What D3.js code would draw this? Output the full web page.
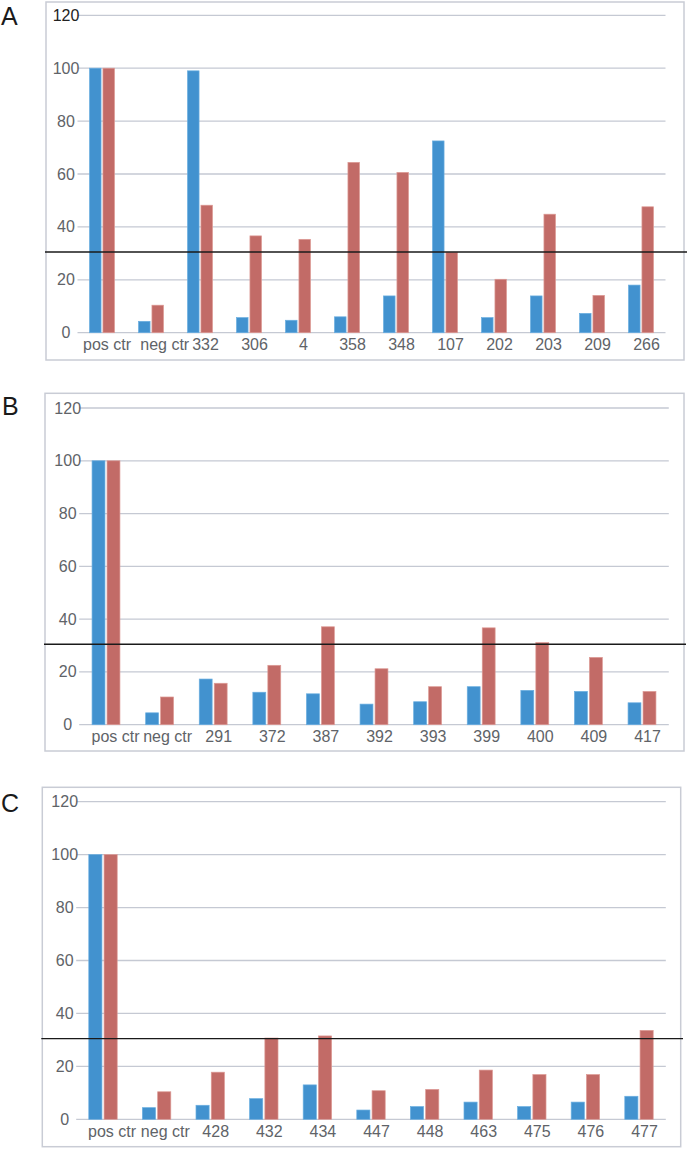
<!DOCTYPE html>
<html>
<head>
<meta charset="utf-8">
<script src="https://cdn.jsdelivr.net/npm/d3@7"></script>
<style>
  html, body { margin: 0; padding: 0; background: #fff; }
  svg { display: block; font-family: "Liberation Sans", Arial, sans-serif; }
</style>
</head>
<body>
<svg id="chart" width="688" height="1149"></svg>
<script>
// ---------- data ----------
const yTicks = [0, 20, 40, 60, 80, 100, 120];
const threshold = 30.5;

const catsA = ["pos ctr", "neg ctr", "332", "306", "4", "358", "348", "107", "202", "203", "209", "266"];
const blueA = [100, 4.3, 99, 5.7, 4.7, 6.0, 13.9, 72.5, 5.7, 13.9, 7.3, 18.0];
const redA  = [100, 10.4, 48.2, 36.6, 35.3, 64.4, 60.6, 30.4, 20.2, 44.8, 14.1, 47.6];

const catsB = ["pos ctr", "neg ctr", "291", "372", "387", "392", "393", "399", "400", "409", "417"];
const blueB = [100, 4.5, 17.3, 12.3, 11.7, 7.8, 8.7, 14.4, 13.0, 12.6, 8.3];
const redB  = [100, 10.5, 15.7, 22.5, 37.1, 21.2, 14.4, 36.7, 31.1, 25.5, 12.6];

const catsC = ["pos ctr", "neg ctr", "428", "432", "434", "447", "448", "463", "475", "476", "477"];
const blueC = [100, 4.4, 5.3, 7.8, 13.0, 3.5, 4.8, 6.5, 4.8, 6.5, 8.7];
const redC  = [100, 10.4, 17.8, 30.7, 31.5, 10.8, 11.3, 18.6, 16.9, 16.9, 33.6];

// ---------- layout / style ----------
const BLUE = "#4292cf", BLUE_EDGE = "#6aaee0";
const RED = "#c26b67", RED_EDGE = "#dd9a95";
const GRID = "#c5c9d3", BOX = "#c9ccd5", TXT = "#606368";

const panels = [
  { letter: "A", cats: catsA, blue: blueA, red: redA,
    box: [46, 2, 684, 360], xr: [77.5, 665.5], yr: [332.7, 15.3],
    padIn: 0.49, letterXY: [1, 25], ctrShift: [-0.5, 8.2], topDark: true, lineEnd: 687 },
  { letter: "B", cats: catsB, blue: blueB, red: redB,
    box: [45, 393.3, 684, 751], xr: [79.2, 668.8], yr: [724.7, 408],
    padIn: 0.48, letterXY: [2, 415], ctrShift: [4, 2.5], topDark: false, lineEnd: 686 },
  { letter: "C", cats: catsC, blue: blueC, red: redC,
    box: [42.3, 787.3, 680.7, 1146.7], xr: [76.2, 665.8], yr: [1119.3, 801.7],
    padIn: 0.47, letterXY: [1, 812], ctrShift: [3.5, 3.2], topDark: false, lineEnd: 683 }
];

const svg = d3.select("#chart");

panels.forEach(p => {
  const g = svg.append("g");
  const [bx0, by0, bx1, by1] = p.box;

  // panel letter
  g.append("text").attr("x", p.letterXY[0]).attr("y", p.letterXY[1])
    .attr("font-size", 25).attr("fill", "#1a1a1a").text(p.letter);

  // box
  g.append("rect").attr("x", bx0).attr("y", by0)
    .attr("width", bx1 - bx0).attr("height", by1 - by0)
    .attr("fill", "none").attr("stroke", BOX).attr("stroke-width", 1.5);

  const x = d3.scaleBand().domain(p.cats).range(p.xr).paddingInner(p.padIn).paddingOuter(p.padIn / 2);
  const x1 = d3.scaleBand().domain(["blue", "red"]).range([0, x.bandwidth()]).paddingInner(0.14);
  const y = d3.scaleLinear().domain([0, 120]).range(p.yr);

  // gridlines
  g.append("g").selectAll("line").data(yTicks).join("line")
    .attr("x1", p.xr[0]).attr("x2", p.xr[1])
    .attr("y1", d => y(d)).attr("y2", d => y(d))
    .attr("stroke", GRID).attr("stroke-width", 1.3);

  // y tick labels (centred)
  g.append("g").selectAll("text").data(yTicks).join("text")
    .attr("x", p.xr[0] - 11.5).attr("y", d => y(d))
    .attr("text-anchor", "middle").attr("dominant-baseline", "central")
    .attr("font-size", 16)
    .attr("fill", d => (p.topDark && d === 120) ? "#222" : TXT)
    .text(d => d);

  // bars
  const rows = p.cats.map((c, i) => ({ c, blue: p.blue[i], red: p.red[i] }));
  const grp = g.append("g").selectAll("g").data(rows).join("g")
    .attr("transform", d => `translate(${x(d.c)},0)`);
  grp.append("rect")
    .attr("x", x1("blue")).attr("width", x1.bandwidth())
    .attr("y", d => y(d.blue)).attr("height", d => y(0) - y(d.blue))
    .attr("fill", BLUE).attr("stroke", BLUE_EDGE).attr("stroke-width", 0.7);
  grp.append("rect")
    .attr("x", x1("red")).attr("width", x1.bandwidth())
    .attr("y", d => y(d.red)).attr("height", d => y(0) - y(d.red))
    .attr("fill", RED).attr("stroke", RED_EDGE).attr("stroke-width", 0.7);

  // x labels
  g.append("g").selectAll("text").data(p.cats).join("text")
    .attr("x", (d, i) => x(d) + x.bandwidth() / 2 + 5.5 + (i < 2 ? p.ctrShift[i] : 0))
    .attr("y", y(0) + 12)
    .attr("text-anchor", "middle").attr("dominant-baseline", "central")
    .attr("font-size", 16).attr("fill", TXT)
    .text(d => d);

  // threshold line
  g.append("line")
    .attr("x1", bx0 - 1).attr("x2", p.lineEnd)
    .attr("y1", y(threshold)).attr("y2", y(threshold))
    .attr("stroke", "#1a1a1a").attr("stroke-width", 1.4);
});
</script>
</body>
</html>
